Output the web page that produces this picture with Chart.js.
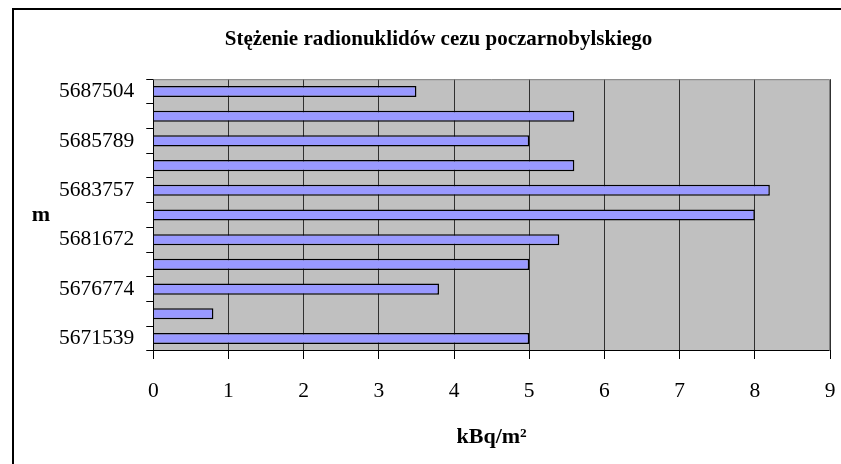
<!DOCTYPE html>
<html>
<head>
<meta charset="utf-8">
<script src="https://cdn.jsdelivr.net/npm/chart.js@4/dist/chart.umd.min.js"></script>
<style>
  html, body { margin: 0; padding: 0; background: #fff; }
  #wrap { position: relative; width: 841px; height: 464px; overflow: hidden; }
  #frame { position: absolute; left: 12px; top: 8px; width: 900px; height: 500px;
           border-left: 2px solid #000; border-top: 2px solid #000; pointer-events: none; }
  canvas { position: absolute; left: 0; top: 0; }
</style>
</head>
<body>
<div id="wrap">
  <canvas id="chart" width="841" height="464"></canvas>
  <div id="frame"></div>
</div>
<script>
// categories (only every other one is labelled in the original)
const categories = ["5687504", "", "5685789", "", "5683757", "", "5681672", "", "5676774", "", "5671539"];
const values = [3.5, 5.6, 5.0, 5.6, 8.2, 8.0, 5.4, 5.0, 3.8, 0.8, 5.0];
const xTicks = [0, 1, 2, 3, 4, 5, 6, 7, 8, 9];

const titleText = "Stężenie radionuklidów cezu poczarnobylskiego";
const xTitle = "kBq/m²";
const yTitle = "m";

const serif = "'Liberation Serif', 'Times New Roman', serif";

// grey plot background + frame, and the "m" label beside the axis
const plotDecor = {
  id: "plotDecor",
  beforeDraw(chart) {
    const { ctx, chartArea: a } = chart;
    ctx.save();
    ctx.fillStyle = "#c0c0c0";
    ctx.fillRect(a.left, a.top, a.right - a.left, a.bottom - a.top);
    ctx.restore();
  },
  afterDraw(chart) {
    const { ctx, chartArea: a } = chart;
    ctx.save();
    ctx.strokeStyle = "#808080";
    ctx.lineWidth = 1;
    ctx.beginPath();
    ctx.moveTo(a.left, a.top + 0.5);
    ctx.lineTo(a.right - 0.5, a.top + 0.5);
    ctx.lineTo(a.right - 0.5, a.bottom);
    ctx.stroke();
    ctx.fillStyle = "#000";
    ctx.font = "bold 22px " + serif;
    ctx.textAlign = "center";
    ctx.textBaseline = "middle";
    ctx.fillText(yTitle, 41, (a.top + a.bottom) / 2);
    ctx.restore();
  }
};

new Chart(document.getElementById("chart"), {
  type: "bar",
  data: {
    labels: categories,
    datasets: [{
      data: values,
      backgroundColor: "#9999ff",
      borderColor: "#000",
      borderWidth: 1.5,
      barPercentage: 0.45,
      categoryPercentage: 1
    }]
  },
  options: {
    indexAxis: "y",
    responsive: false,
    animation: false,
    layout: { padding: { left: 47, right: 11, top: 0, bottom: 13 } },
    plugins: {
      legend: { display: false },
      tooltip: { enabled: false },
      title: {
        display: true,
        text: titleText,
        color: "#000",
        font: { family: serif, size: 21, weight: "bold" },
        padding: { top: 27, bottom: 27 }
      }
    },
    scales: {
      x: {
        min: xTicks[0],
        max: xTicks[xTicks.length - 1],
        afterBuildTicks(scale) { scale.ticks = xTicks.map(v => ({ value: v })); },
        // long tick space keeps the labels low, the dash draws only 8px of it
        grid: { color: "#303030", lineWidth: 1, tickLength: 28, tickColor: "#000", tickBorderDash: [8, 100] },
        border: { color: "#000", width: 1 },
        ticks: { color: "#000", padding: 0, font: { family: serif, size: 21.5 } },
        title: {
          display: true,
          text: xTitle,
          color: "#000",
          font: { family: serif, size: 22, weight: "bold" },
          padding: { top: 20, bottom: 0 }
        }
      },
      y: {
        grid: { offset: true, drawOnChartArea: false, tickLength: 7, tickColor: "#000" },
        border: { color: "#000", width: 1 },
        ticks: { color: "#000", padding: 12, autoSkip: false, font: { family: serif, size: 21.5 } }
      }
    }
  },
  plugins: [plotDecor]
});
</script>
</body>
</html>
